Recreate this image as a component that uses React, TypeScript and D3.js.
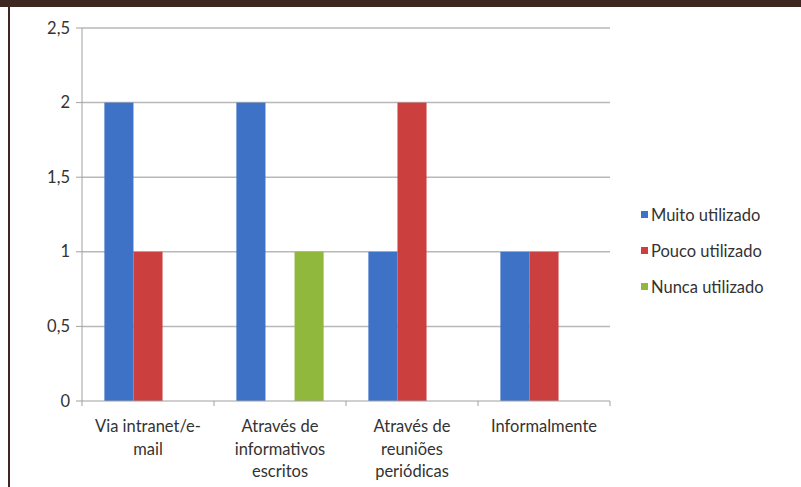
import React from 'react';
import * as d3 from 'd3';

const categories = [
  ['Via intranet/e-', 'mail'],
  ['Através de', 'informativos', 'escritos'],
  ['Através de', 'reuniões', 'periódicas'],
  ['Informalmente'],
];
const seriesNames = ['Muito utilizado', 'Pouco utilizado', 'Nunca utilizado'];
const muito = [2, 2, 1, 1];
const pouco = [1, 0, 2, 1];
const nunca = [0, 1, 0, 0];
const yTicks = [0, 0.5, 1, 1.5, 2, 2.5];
const colors = ['#3d72c6', '#cc3f3f', '#8fb83d'];

const App: React.FC = () => {
  const W = 801;
  const H = 487;
  const left = 82;
  const right = 610;
  const top = 28;
  const bottom = 401;
  const font = 'Lato, "Open Sans", sans-serif';
  const fs = 16.5;

  const x = d3.scaleBand<number>()
    .domain(d3.range(categories.length))
    .range([left, right])
    .paddingInner(0)
    .paddingOuter(0);
  const inner = d3.scaleBand<number>()
    .domain([0, 1, 2])
    .range([0, x.bandwidth()])
    .paddingOuter(0.77)
    .paddingInner(0);
  const y = d3.scaleLinear().domain([0, 2.5]).range([bottom, top]);
  const series = [muito, pouco, nunca];
  const fmt = (v: number) => String(v).replace('.', ',');

  return (
    <svg width={W} height={H} style={{ position: 'absolute', left: 0, top: 0, background: '#fff' }}>
      <rect x={0} y={0} width={W} height={H} fill="#fff" />
      <rect x={0} y={0} width={W} height={7} fill="#3d2720" />
      <rect x={8} y={7} width={2} height={H - 7} fill="#3d2720" />

      {/* gridlines */}
      {yTicks.filter(t => t > 0).map(t => (
        <line key={t} x1={left} x2={right} y1={y(t)} y2={y(t)} stroke="#b8b8b8" strokeWidth={1.5} />
      ))}

      {/* bars */}
      {series.map((vals, si) =>
        vals.map((v, ci) => v > 0 ? (
          <rect key={`${si}-${ci}`}
            x={(x(ci) as number) + (inner(si) as number)}
            y={y(v)}
            width={inner.bandwidth()}
            height={y(0) - y(v)}
            fill={colors[si]} />
        ) : null)
      )}

      {/* y axis */}
      <line x1={left} x2={left} y1={top} y2={bottom} stroke="#a0a0a0" strokeWidth={1} />
      {yTicks.map(t => (
        <g key={t}>
          <line x1={left - 6} x2={left} y1={y(t)} y2={y(t)} stroke="#a0a0a0" />
          <text x={70} y={y(t) + 5.5} textAnchor="end" fontFamily={font} fontSize={fs} fill="#333">{fmt(t)}</text>
        </g>
      ))}

      {/* x axis */}
      <line x1={left} x2={right} y1={bottom} y2={bottom} stroke="#a0a0a0" />
      {d3.range(categories.length + 1).map(i => {
        const px = i < categories.length ? (x(i) as number) : right;
        return <line key={i} x1={px} x2={px} y1={bottom} y2={bottom + 5} stroke="#a0a0a0" />;
      })}
      {categories.map((lines, ci) => (
        <text key={ci} textAnchor="middle" fontFamily={font} fontSize={fs} fill="#333">
          {lines.map((l, li) => (
            <tspan key={li} x={(x(ci) as number) + x.bandwidth() / 2} y={432 + li * 22.5}>{l}</tspan>
          ))}
        </text>
      ))}

      {/* legend */}
      {seriesNames.map((n, i) => (
        <g key={n}>
          <rect x={641} y={211 + i * 36} width={7} height={7} fill={colors[i]} />
          <text x={651} y={221 + i * 36} fontFamily={font} fontSize={fs} fill="#333">{n}</text>
        </g>
      ))}
    </svg>
  );
};

export default App;
